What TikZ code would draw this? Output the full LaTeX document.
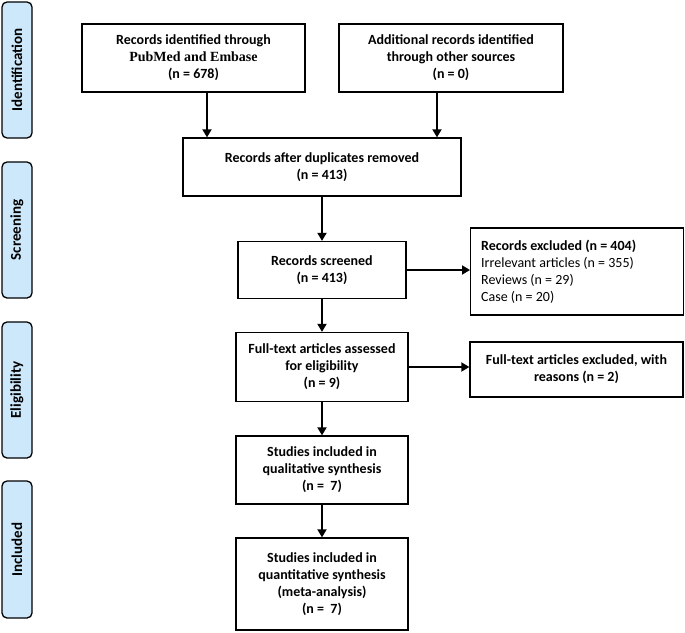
\documentclass[tikz,border=0pt]{standalone}
\usepackage{fontspec}
\setmainfont{Carlito}
\newfontfamily\tnr{Liberation Serif}
\usetikzlibrary{arrows.meta}
\definecolor{sidefill}{HTML}{CCE8FA}
\tikzset{
  box/.style={draw=black, line width=1.3pt, fill=white, align=center, inner sep=0pt,
    font=\fontsize{14}{17}\selectfont\bfseries},
  sidebar/.style={draw=black, line width=1.3pt, fill=sidefill, rounded corners=5pt,
    rotate=90, minimum height=30pt, inner sep=0pt, font=\fontsize{15}{17}\selectfont\bfseries},
  arr/.style={line width=1.8pt, -{Triangle[length=8pt,width=9pt]}}
}
\begin{document}
\begin{tikzpicture}[x=1pt,y=-1pt]
\useasboundingbox (0,0) rectangle (685,632);
% side bars
\node[sidebar, minimum width=136pt] (s1) at (17,70) {Identification};
\node[sidebar, minimum width=136pt] (s2) at (17,230) {Screening};
\node[sidebar, minimum width=136pt] (s3) at (17,390) {Eligibility};
\node[sidebar, minimum width=137pt] (s4) at (17,549.5) {Included};
% boxes
\node[box, minimum width=223pt, minimum height=68pt] (b1) at (193.5,58)
  {Records identified through\\{\tnr PubMed and Embase}\\(n = 678)};
\node[box, minimum width=224pt, minimum height=68pt] (b2) at (451,58)
  {Additional records identified\\through other sources\\(n = 0)};
\node[box, minimum width=278pt, minimum height=58pt] (b3) at (322,167)
  {Records after duplicates removed\\(n = 413)};
\node[box, minimum width=168pt, minimum height=57pt] (b4) at (322,270)
  {Records screened\\(n = 413)};
\node[box, minimum width=213pt, minimum height=87pt, anchor=west] (e1) at (470,271.5) {};
\node[anchor=west, align=left, inner sep=0pt, font=\fontsize{14}{17}\selectfont] (e1t) at (481,271.5)
  {\textbf{Records excluded (n = 404)}\\Irrelevant articles (n = 355)\\Reviews (n = 29)\\Case (n = 20)};
\node[box, minimum width=172pt, minimum height=69pt] (b5) at (322,367)
  {Full-text articles assessed\\for eligibility\\(n = 9)};
\node[box, minimum width=213pt, minimum height=55pt] (e2) at (576.5,369.5)
  {Full-text articles excluded, with\\reasons (n = 2)};
\node[box, minimum width=172pt, minimum height=68pt] (b6) at (322,470)
  {Studies included in\\qualitative synthesis\\(n =~~7)};
\node[box, minimum width=172pt, minimum height=92pt] (b7) at (322,584)
  {Studies included in\\quantitative synthesis\\(meta-analysis)\\(n =~~7)};
% connectors
\coordinate (a1) at (207,0);
\coordinate (a2) at (437,0);
\draw[arr] (a1 |- b1.south) -- (a1 |- b3.north);
\draw[arr] (a2 |- b2.south) -- (a2 |- b3.north);
\draw[arr] (b3) -- (b4);
\draw[arr] (b4.east) -- (b4.east -| e1.west);
\draw[arr] (b4) -- (b5);
\draw[arr] (b5.east) -- (b5.east -| e2.west);
\draw[arr] (b5) -- (b6);
\draw[arr] (b6) -- (b7);
\end{tikzpicture}
\end{document}
